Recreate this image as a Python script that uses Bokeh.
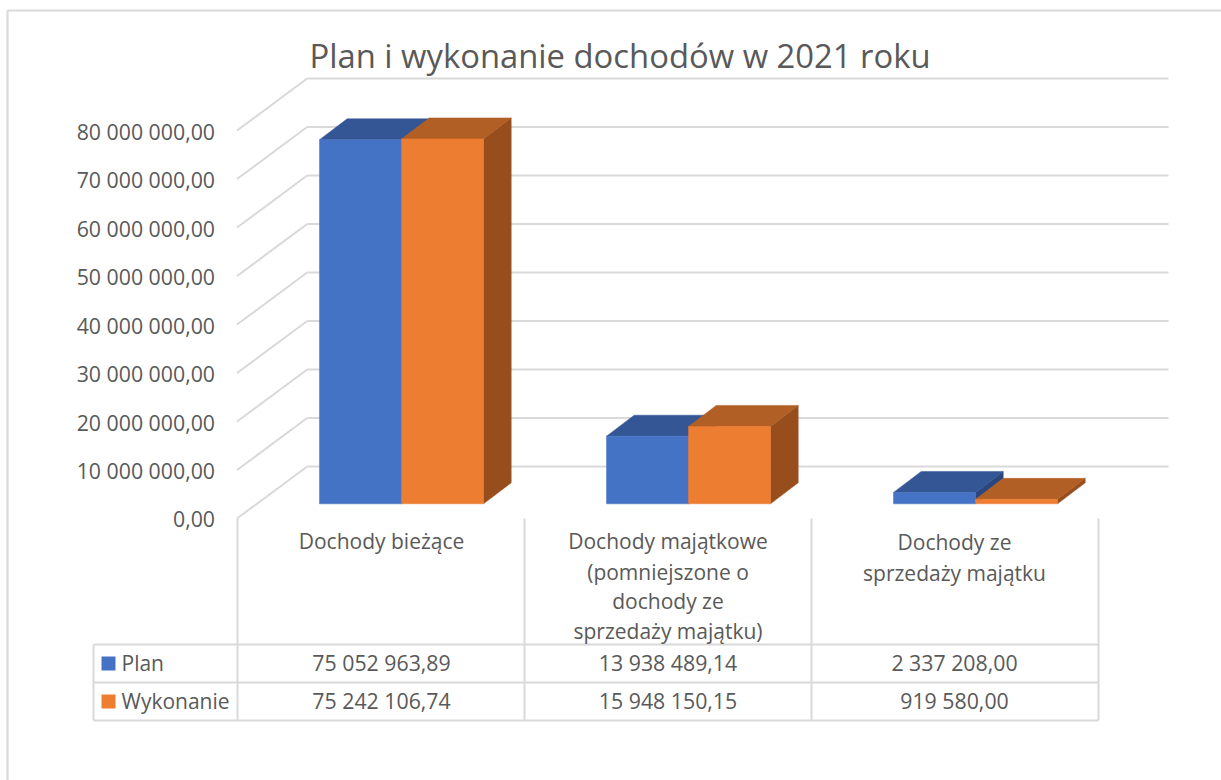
from bokeh.plotting import figure
from bokeh.embed import file_html
from bokeh.resources import INLINE
from bokeh.core.properties import value

# ---- data ----
title_text = "Plan i wykonanie dochodów w 2021 roku"
categories = ["Dochody bieżące",
              "Dochody majątkowe\n(pomniejszone o\ndochody ze\nsprzedaży majątku)",
              "Dochody ze\nsprzedaży majątku"]
series_names = ["Plan", "Wykonanie"]
plan = [75052963.89, 13938489.14, 2337208.00]
wykonanie = [75242106.74, 15948150.15, 919580.00]
plan_labels = ["75 052 963,89", "13 938 489,14", "2 337 208,00"]
wykonanie_labels = ["75 242 106,74", "15 948 150,15", "919 580,00"]
ticks = [0, 10e6, 20e6, 30e6, 40e6, 50e6, 60e6, 70e6, 80e6]
tick_labels = ["0,00", "10 000 000,00", "20 000 000,00", "30 000 000,00", "40 000 000,00",
               "50 000 000,00", "60 000 000,00", "70 000 000,00", "80 000 000,00"]

# ---- layout: picture pixel <-> data ----
W, H = 1221, 780
PX_CAT, PX_ZERO, PX_PER_UNIT = 287.0, 503.3, 4.85e-6
def X(px): return (px - 401.0) / PX_CAT
def Y(py): return (PX_ZERO - py) / PX_PER_UNIT
def DX(px): return px / PX_CAT
def DY(px): return px / PX_PER_UNIT

BLUE, ORANGE = "#4472C4", "#ED7D31"
BLUE_TOP, ORANGE_TOP = "#345694", "#B25F25"
BLUE_SIDE, ORANGE_SIDE = "#29467F", "#974E1C"
GRID, TXT = "#D9D9D9", "#595959"
FONT = value("Open Sans")

p = figure(width=W, height=H, output_backend="svg", toolbar_location=None,
           x_range=(X(0), X(W)), y_range=(Y(H), Y(0)),
           min_border=0, min_border_left=0, min_border_right=0,
           min_border_top=0, min_border_bottom=0,
           background_fill_color="white", border_fill_color="white")
p.axis.visible = False
p.grid.visible = False
p.outline_line_color = None

def seg(x0, y0, x1, y1, w=2.0):
    p.line([X(x0), X(x1)], [Y(y0), Y(y1)], line_color=GRID, line_width=w)

def label(px, py, s, size, align="center"):
    p.text([X(px)], [Y(py)], text=[s], text_font=FONT, text_font_size=size,
           text_color=TXT, text_align=align, text_baseline="middle")

# outer frame
seg(7, 10, 1221, 10, 2.2)
seg(7, 10, 7, 780, 2.2)

# walls: gridlines from ticks
BACK_ZERO, BACK_X, FRONT_X, FRONT_DROP, RIGHT_X = 466.0, 306.7, 236.5, 52.0, 1168.0
for t in ticks:
    by = Y(BACK_ZERO) + t
    p.line([X(BACK_X), X(RIGHT_X)], [by, by], line_color=GRID, line_width=2.0)
    p.line([X(FRONT_X), X(BACK_X)], [by - DY(FRONT_DROP), by], line_color=GRID, line_width=2.0)
for t, s in zip(ticks, tick_labels):
    p.text([X(214.5)], [Y(BACK_ZERO + FRONT_DROP + 0.5) + t], text=[s], text_font=FONT,
           text_font_size="21.3px", text_color=TXT, text_align="right", text_baseline="middle")

# 3-D columns
BW = 82.0 / PX_CAT
DEPTH_X, DEPTH_Y = DX(27.7), DY(21.0)

def columns(vals, shift, front, top, side):
    for i, v in enumerate(vals):
        l = i + shift
        r = l + BW
        p.patch([r, r + DEPTH_X, r + DEPTH_X, r], [0, DEPTH_Y, v + DEPTH_Y, v],
                fill_color=side, line_color=side, line_width=0.5)
        p.patch([l, l + DEPTH_X, r + DEPTH_X, r], [v, v + DEPTH_Y, v + DEPTH_Y, v],
                fill_color=top, line_color=top, line_width=0.5)
    p.vbar(x=[i + shift + BW / 2 for i in range(len(vals))], width=BW, bottom=0, top=vals,
           fill_color=front, line_color=front, line_width=0.5)

columns(plan, -BW, BLUE, BLUE_TOP, BLUE_SIDE)
columns(wykonanie, 0, ORANGE, ORANGE_TOP, ORANGE_SIDE)

# title
label(619.5, 55, title_text, "32.8px")

# data table
for x in (237, 524, 811, 1098):
    seg(x, 518, x, 720)
seg(93, 644, 93, 720)
for y in (644, 682, 720):
    seg(93, y, 1098, y)

cell_centers = [381, 667.5, 954]
line_ys = {1: [540], 2: [541, 572], 4: [540, 571, 600, 630]}
for cx, cat in zip(cell_centers, categories):
    lines = cat.split("\n")
    for ly, s in zip(line_ys[len(lines)], lines):
        label(cx, ly, s, "21px")
for cx, a, b in zip(cell_centers, plan_labels, wykonanie_labels):
    label(cx, 662, a, "21.3px")
    label(cx, 700, b, "21.3px")

# legend keys in the table
for name, col, cy in zip(series_names, (BLUE, ORANGE), (663, 701)):
    p.quad(left=[X(101)], right=[X(115)], bottom=[Y(cy + 7)], top=[Y(cy - 7)],
           fill_color=col, line_color=None)
    label(121, cy - 1, name, "21px", "left")

open("out.html", "w").write(file_html(p, INLINE))
